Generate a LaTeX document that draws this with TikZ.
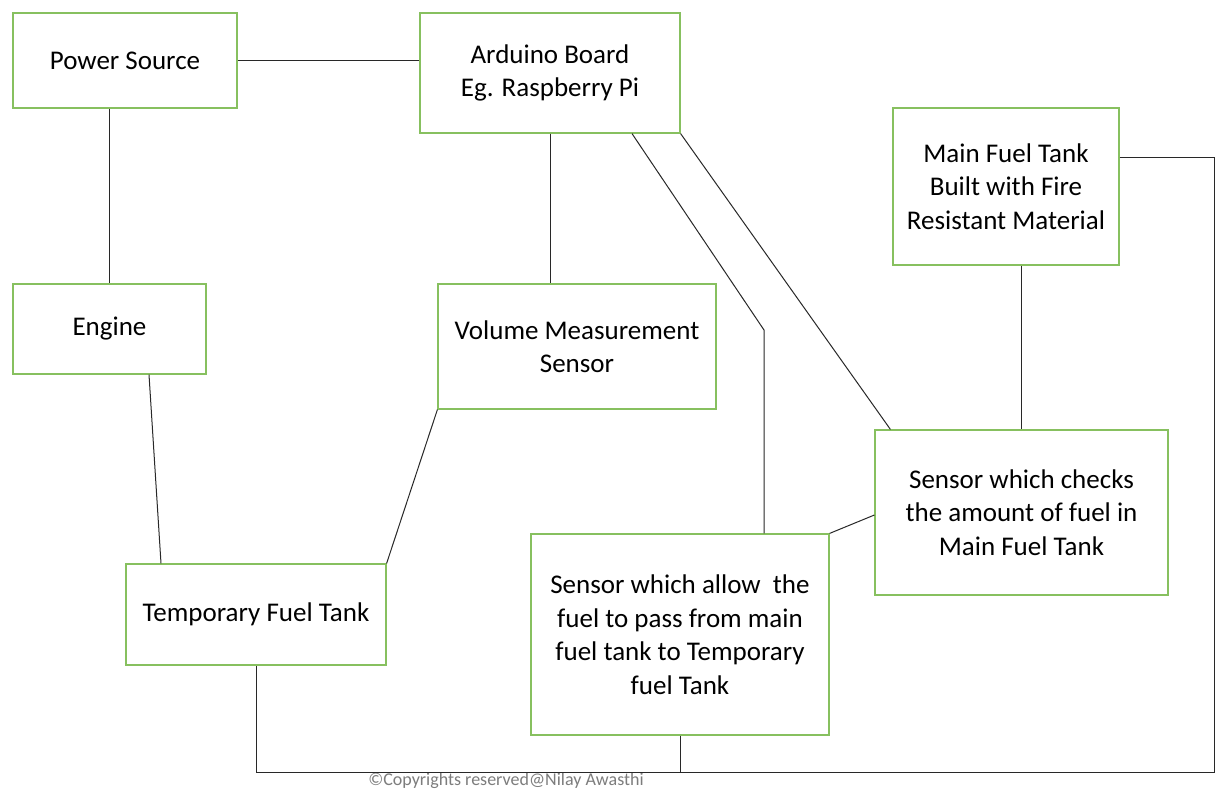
\documentclass[tikz,border=0pt]{standalone}
\usepackage{fontspec}
\setmainfont{Carlito}
\definecolor{boxgreen}{RGB}{135,192,95}
\definecolor{linegray}{RGB}{40,40,40}
\definecolor{copygray}{RGB}{125,125,125}
\begin{document}
\begin{tikzpicture}[x=1pt,y=-1pt,
  blk/.style={draw=boxgreen,line width=1.2pt,inner sep=0pt,align=center,
    font=\fontsize{27}{33.5}\selectfont},
  wire/.style={draw=linegray,line width=1pt}]
\useasboundingbox (0,0) rectangle (1218,790);
\fill[white] (0,0) rectangle (1218,790);
% boxes
\node[blk,minimum width=224pt,minimum height=95pt] (ps) at (125,60.5) {Power Source};
\node[blk,minimum width=260pt,minimum height=120pt] (ard) at (550,73) {Arduino Board\\Eg. Raspberry Pi};
\node[blk,minimum width=226pt,minimum height=157pt] (mft) at (1006,186.5) {Main Fuel Tank\\Built with Fire\\Resistant Material};
\node[blk,minimum width=193pt,minimum height=90pt] (eng) at (109.5,329) {Engine};
\node[blk,minimum width=278pt,minimum height=125pt] (vms) at (577,346.5) {Volume Measurement\\Sensor};
\node[blk,minimum width=293pt,minimum height=165pt] (sc) at (1021.5,512.5) {Sensor which checks\\the amount of fuel in\\Main Fuel Tank};
\node[blk,minimum width=260pt,minimum height=101pt] (tmp) at (256,614.5) {Temporary Fuel Tank};
\node[blk,minimum width=298pt,minimum height=201pt] (sa) at (680,634.5) {Sensor which allow~ the\\fuel to pass from main\\fuel tank to Temporary\\fuel Tank};
\node[text=copygray,font=\fontsize{18}{20}\selectfont,inner sep=0pt] (copy) at (506,781) {©Copyrights reserved@Nilay Awasthi};
% connectors
\draw[wire] (ps.east) -- (ps.east -| ard.west);
\draw[wire] (eng.north |- ps.south) -- (eng.north);
\draw[wire] ([xshift=39.5pt]eng.south) -- ([xshift=-95pt]tmp.north);
\draw[wire] (vms.south west) -- (tmp.north east);
\draw[wire] (ard.south) -- (ard.south |- vms.north);
\coordinate (bend) at (764,330);
\draw[wire] ([xshift=82pt]ard.south) -- (bend) -- ([xshift=84pt]sa.north);
\draw[wire] (ard.south east) -- ([xshift=16pt]sc.north west);
\draw[wire] (sc.north |- mft.south) -- (sc.north);
\coordinate (rc1) at (1214,157);
\coordinate (rc2) at (1214,772);
\draw[wire] ([yshift=29.5pt]mft.east) -- (rc1) -- (rc2) -- (tmp.south |- rc2) -- (tmp.south);
\draw[wire] (sa.south) -- (sa.south |- rc2);
\draw[wire] (sa.north east) -- ([yshift=-2.5pt]sc.west);
\end{tikzpicture}
\end{document}
